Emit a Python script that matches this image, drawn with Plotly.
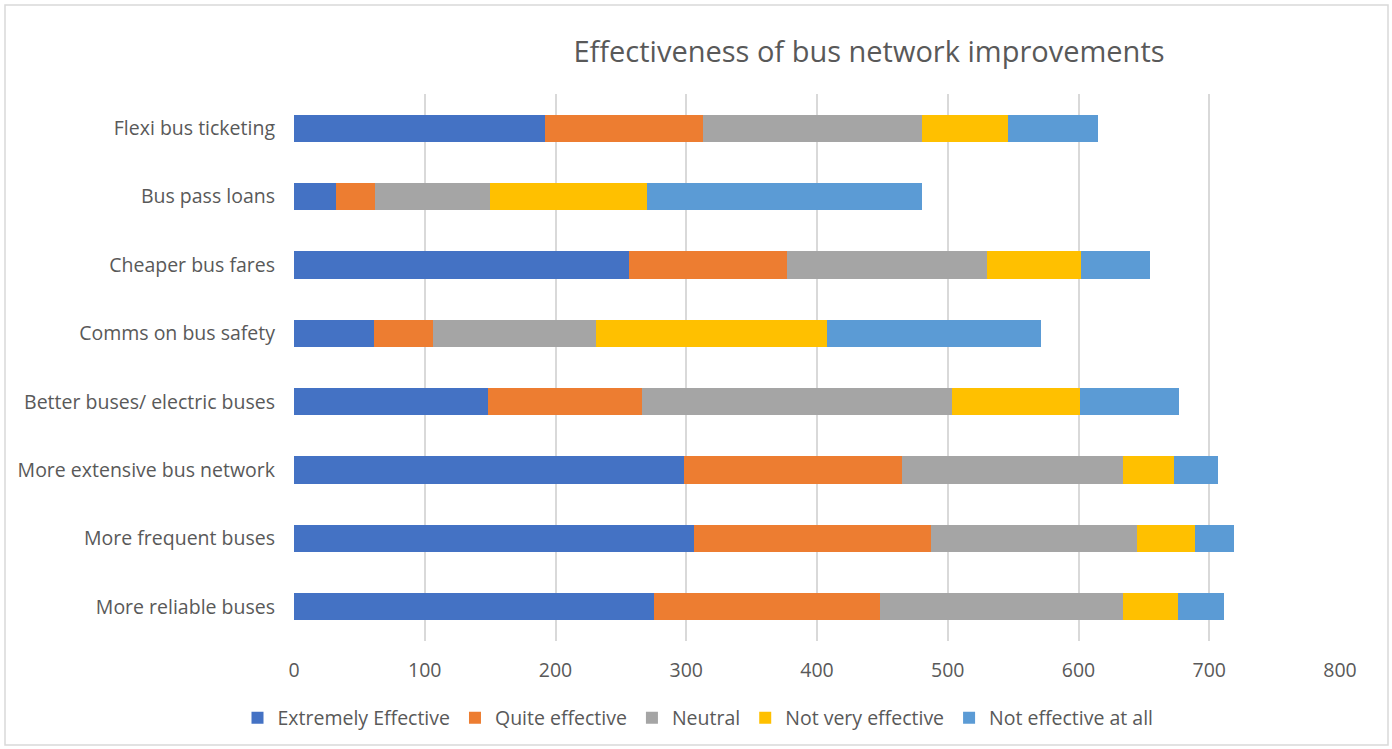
import plotly.graph_objects as go

categories = [
    "Flexi bus ticketing",
    "Bus pass loans",
    "Cheaper bus fares",
    "Comms on bus safety",
    "Better buses/ electric buses",
    "More extensive bus network",
    "More frequent buses",
    "More reliable buses",
]

extremely_effective = [192, 32, 256, 61, 148, 298, 306, 275]
quite_effective = [121, 30, 121, 45, 118, 167, 181, 173]
neutral = [167, 88, 153, 125, 237, 169, 158, 186]
not_very_effective = [66, 120, 72, 177, 98, 39, 44, 42]
not_effective_at_all = [69, 210, 53, 163, 76, 34, 30, 35]

series = [
    ("Extremely Effective", extremely_effective, "#4472C4"),
    ("Quite effective", quite_effective, "#ED7D31"),
    ("Neutral", neutral, "#A5A5A5"),
    ("Not very effective", not_very_effective, "#FFC000"),
    ("Not effective at all", not_effective_at_all, "#5B9BD5"),
]

x_ticks = [0, 100, 200, 300, 400, 500, 600, 700, 800]

FONT = "'Open Sans', Lato, sans-serif"
TXT = "#595959"
W, H = 1392, 749
# plot area in page coords: x 294..1340, y 94..641
L, T = 294, 94
R = W - 1340
B = H - 641

fig = go.Figure()
for name, vals, color in series:
    fig.add_trace(go.Bar(
        y=categories, x=vals, name=name, orientation="h",
        marker=dict(color=color, line=dict(width=0)),
    ))

fig.update_layout(
    barmode="stack",
    bargap=0.6,
    width=W, height=H,
    paper_bgcolor="white", plot_bgcolor="white",
    margin=dict(l=L, r=R, t=T, b=B, autoexpand=False),
    font=dict(family=FONT, color=TXT, size=19),
    title=dict(
        text="Effectiveness of bus network improvements",
        x=869 / W, xanchor="center", xref="container",
        y=1 - 52 / H, yanchor="middle", yref="container",
        font=dict(family=FONT, size=29, color=TXT),
    ),
    legend=dict(
        orientation="h", x=698 / W, xanchor="center", xref="container",
        y=1 - 718 / H, yanchor="middle", yref="container",
        font=dict(family=FONT, size=19.5, color=TXT),
        traceorder="normal",
        itemwidth=30,
    ),
    showlegend=True,
)

fig.update_xaxes(
    range=[0, 800], tickvals=x_ticks, ticktext=[str(t) for t in x_ticks],
    showgrid=True, gridcolor="#D9D9D9", gridwidth=1.5,
    zeroline=False, showline=False, automargin=False,
    ticks="", ticklabelstandoff=15,
    tickfont=dict(family=FONT, size=19.5, color=TXT),
)
fig.update_yaxes(
    categoryorder="array", categoryarray=categories[::-1],
    showgrid=False, zeroline=False, showline=False, automargin=False,
    ticks="", ticklabelstandoff=18,
    tickfont=dict(family=FONT, size=19.5, color=TXT),
)

# outer chart border
pw, ph = W - L - R, H - T - B
fig.add_shape(
    type="rect", xref="paper", yref="paper",
    x0=(5 - L) / pw, x1=(1388 - L) / pw,
    y0=-(745 - (H - B)) / ph, y1=1 + (T - 5) / ph,
    line=dict(color="#D9D9D9", width=1.5), fillcolor="rgba(0,0,0,0)",
    layer="below",
)

fig.write_html(
    "out.html",
    config={"displayModeBar": False},
    post_script="document.body.style.margin='0';document.body.style.overflow='hidden';",
)
